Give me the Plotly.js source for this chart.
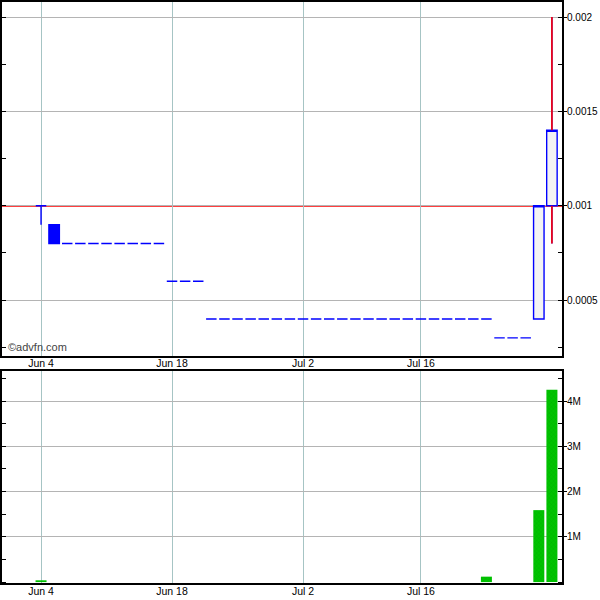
<!DOCTYPE html>
<html>
<head>
<meta charset="utf-8">
<script src="https://cdn.plot.ly/plotly-3.0.1.min.js"></script>
<style>
html,body{margin:0;padding:0;background:#fff;}
#chart{width:600px;height:600px;}
#chart .gridlayer path { shape-rendering: crispEdges; }
</style>
</head>
<body>
<div id="chart"></div>
<script>
// Trading days (weekends and Jul 4 holiday skipped)
var dates = ['2012-05-30','2012-05-31','2012-06-01',
  '2012-06-04','2012-06-05','2012-06-06','2012-06-07','2012-06-08',
  '2012-06-11','2012-06-12','2012-06-13','2012-06-14','2012-06-15',
  '2012-06-18','2012-06-19','2012-06-20','2012-06-21','2012-06-22',
  '2012-06-25','2012-06-26','2012-06-27','2012-06-28','2012-06-29',
  '2012-07-02','2012-07-03','2012-07-05','2012-07-06',
  '2012-07-09','2012-07-10','2012-07-11','2012-07-12','2012-07-13',
  '2012-07-16','2012-07-17','2012-07-18','2012-07-19','2012-07-20',
  '2012-07-23','2012-07-24','2012-07-25','2012-07-26','2012-07-27',
  '2012-07-30','2012-07-31'];
var priceDates = dates.slice(3, 43);
var openP  = [0.001,0.0009,0.0008,0.0008,0.0008,0.0008,0.0008,0.0008,0.0008,0.0008,
  0.0006,0.0006,0.0006,0.0004,0.0004,0.0004,0.0004,0.0004,0.0004,0.0004,
  0.0004,0.0004,0.0004,0.0004,0.0004,0.0004,0.0004,0.0004,0.0004,0.0004,
  0.0004,0.0004,0.0004,0.0004,0.0004,0.0003,0.0003,0.0003,0.0004,0.001];
var highP  = [0.001,0.0009,0.0008,0.0008,0.0008,0.0008,0.0008,0.0008,0.0008,0.0008,
  0.0006,0.0006,0.0006,0.0004,0.0004,0.0004,0.0004,0.0004,0.0004,0.0004,
  0.0004,0.0004,0.0004,0.0004,0.0004,0.0004,0.0004,0.0004,0.0004,0.0004,
  0.0004,0.0004,0.0004,0.0004,0.0004,0.0003,0.0003,0.0003,0.001,0.002];
var lowP   = [0.0009,0.0008,0.0008,0.0008,0.0008,0.0008,0.0008,0.0008,0.0008,0.0008,
  0.0006,0.0006,0.0006,0.0004,0.0004,0.0004,0.0004,0.0004,0.0004,0.0004,
  0.0004,0.0004,0.0004,0.0004,0.0004,0.0004,0.0004,0.0004,0.0004,0.0004,
  0.0004,0.0004,0.0004,0.0004,0.0004,0.0003,0.0003,0.0003,0.0004,0.0008];
var closeP = [0.001,0.0008,0.0008,0.0008,0.0008,0.0008,0.0008,0.0008,0.0008,0.0008,
  0.0006,0.0006,0.0006,0.0004,0.0004,0.0004,0.0004,0.0004,0.0004,0.0004,
  0.0004,0.0004,0.0004,0.0004,0.0004,0.0004,0.0004,0.0004,0.0004,0.0004,
  0.0004,0.0004,0.0004,0.0004,0.0004,0.0003,0.0003,0.0003,0.001,0.0014];
var volDates = ['2012-06-04','2012-07-23','2012-07-27','2012-07-30'];
var volumes  = [40000, 120000, 1590000, 4250000];
var refLevel = 0.001;

var xTickVals = ['2012-06-04','2012-06-18','2012-07-02','2012-07-16'];
var xTickText = ['Jun 4','Jun 18','Jul 2','Jul 16'];
var pTickVals = [0.0005,0.001,0.0015,0.002];
var pTickText = ['0.0005','0.001','0.0015','0.002'];
var vTickVals = [1000000,2000000,3000000,4000000];
var vTickText = ['1M','2M','3M','4M'];

// red wicks for rising candles
var wx = [], wy = [];
for (var i = 0; i < priceDates.length; i++) {
  if (closeP[i] > openP[i] && (highP[i] > closeP[i] || lowP[i] < openP[i])) {
    wx.push(priceDates[i], priceDates[i], null, priceDates[i], priceDates[i], null);
    wy.push(highP[i], closeP[i], null, openP[i], lowP[i], null);
  }
}

var traces = [
  {type:'candlestick', x:priceDates, open:openP, high:highP, low:lowP, close:closeP,
   xaxis:'x', yaxis:'y', hoverinfo:'skip',
   increasing:{line:{color:'#0000ff', width:1.4}, fillcolor:'#f3f3f3'},
   decreasing:{line:{color:'#0000ff', width:1.4}, fillcolor:'#0000ff'}},
  {type:'scatter', mode:'lines', x:wx, y:wy, xaxis:'x', yaxis:'y',
   line:{color:'#ff0000', width:1.6}, hoverinfo:'skip'},
  {type:'bar', x:volDates, y:volumes, xaxis:'x2', yaxis:'y2', hoverinfo:'skip',
   marker:{color:'#00c400', line:{width:0},
     pattern:{shape:'x', fgcolor:'#00a000', bgcolor:'#00c400', size:3, solidity:0.15}}}
];

var common = {
  type:'category', categoryorder:'array', categoryarray:dates,
  range:[0.02, 42.77],
  tickmode:'array', tickvals:xTickVals, ticktext:xTickText,
  showgrid:true, gridcolor:'#a6c4c4', gridwidth:1,
  showline:true, linecolor:'#000', linewidth:2, mirror:true,
  ticks:'', tickfont:{size:10.5, color:'#000'}, ticklabelstandoff:-3,
  rangeslider:{visible:false},
  fixedrange:true, zeroline:false
};
var xa1 = Object.assign({}, common, {anchor:'y'});
var xa2 = Object.assign({}, common, {anchor:'y2', matches:'x'});

var layout = {
  width:600, height:600,
  margin:{l:2, r:38, t:2, b:17},
  paper_bgcolor:'#fff', plot_bgcolor:'#fff',
  font:{family:'Liberation Sans, Arial, sans-serif', size:10, color:'#000'},
  showlegend:false,
  xaxis:xa1, xaxis2:xa2,
  yaxis:{domain:[0.391,1], side:'right', range:[0.000205,0.00208],
    tickmode:'array', tickvals:pTickVals, ticktext:pTickText,
    tickfont:{size:10},
    showgrid:true, gridcolor:'#b4b4b4', gridwidth:1,
    showline:true, linecolor:'#000', linewidth:2, mirror:'allticks',
    ticks:'outside', ticklen:3, tickcolor:'#000', ticklabelstandoff:-2,
    minor:{dtick:0.00025, ticks:'inside', ticklen:4, tickcolor:'#000', showgrid:false},
    zeroline:false, fixedrange:true, anchor:'x'},
  yaxis2:{domain:[0,0.3654], side:'right', range:[-20000,4670000],
    tickmode:'array', tickvals:vTickVals, ticktext:vTickText,
    tickfont:{size:10},
    showgrid:true, gridcolor:'#b4b4b4', gridwidth:1,
    showline:true, linecolor:'#000', linewidth:2, mirror:'allticks',
    ticks:'outside', ticklen:3, tickcolor:'#000', ticklabelstandoff:-2,
    minor:{dtick:500000, ticks:'inside', ticklen:4, tickcolor:'#000', showgrid:false},
    zeroline:false, fixedrange:true, anchor:'x2'},
  bargap:0.16,
  boxgap:0.2,
  boxgroupgap:0,
  shapes:[{type:'line', xref:'x domain', yref:'y', x0:0, x1:1, y0:refLevel, y1:refLevel,
    line:{color:'#ff0000', width:1.8}, layer:'below'}],
  annotations:[{text:'©advfn.com', xref:'paper', yref:'paper', x:0, y:0.391,
    xanchor:'left', yanchor:'bottom', xshift:4, yshift:1, showarrow:false,
    font:{size:11, color:'#444'}}]
};

Plotly.newPlot('chart', traces, layout, {displayModeBar:false, staticPlot:true});
</script>
</body>
</html>
